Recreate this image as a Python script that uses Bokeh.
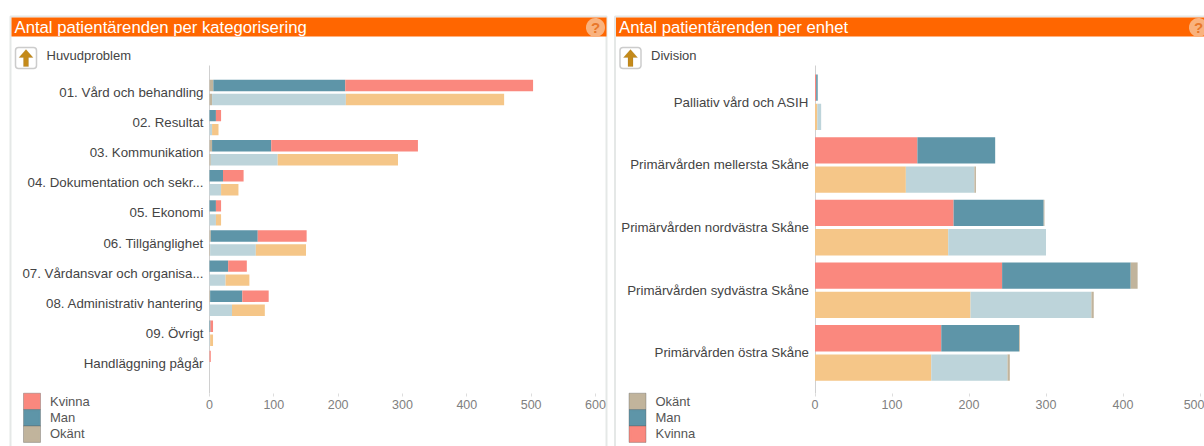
import numpy as np
from bokeh.embed import file_html
from bokeh.layouts import row
from bokeh.models import (BoxAnnotation, ColumnDataSource, FixedTicker, Label, Legend, LegendItem,
                          PolyAnnotation, Range1d)
from bokeh.plotting import figure
from bokeh.resources import INLINE

FONT = "Liberation Sans"
RED, BLUE, TAN = "#FA887E", "#5E95A8", "#C1B49C"
ORANGE, PALE = "#F5C688", "#BDD4DA"
H = 446

# left chart: categorisation
cat_left = ["01. Vård och behandling", "02. Resultat", "03. Kommunikation",
            "04. Dokumentation och sekr...", "05. Ekonomi", "06. Tillgänglighet",
            "07. Vårdansvar och organisa...", "08. Administrativ hantering", "09. Övrigt",
            "Handläggning pågår"]
left_a_okant = [6, 0, 4, 0, 0, 2, 0, 1, 0, 0]
left_a_man = [205, 10, 92, 21, 10, 73, 29, 50, 1.5, 0]
left_a_kvinna = [292, 8, 228, 32, 8, 76, 29, 41, 4, 2]
left_b_okant = [4, 0, 2, 0, 0, 1, 0, 0, 0, 0]
left_b_man = [208, 4, 104, 18, 10, 71, 25, 35, 1, 0]
left_b_kvinna = [246, 10, 187, 27, 8, 78, 37, 51, 4.5, 0]
ticks_left = [0, 100, 200, 300, 400, 500, 600]

# right chart: unit
cat_right = ["Palliativ vård och ASIH", "Primärvården mellersta Skåne", "Primärvården nordvästra Skåne",
             "Primärvården sydvästra Skåne", "Primärvården östra Skåne"]
right_a_kvinna = [1.5, 133, 180, 243, 164]
right_a_man = [2, 101, 117, 167, 101]
right_a_okant = [0, 0, 1, 9, 1]
right_b_kvinna = [3, 118, 173, 202, 151]
right_b_man = [5, 89, 127, 157, 99]
right_b_okant = [0, 2, 0, 3, 3]
ticks_right = [0, 100, 200, 300, 400, 500]


def panel(width, zero_px, px_per_val, row0_px, row_px, cats, ticks):
    """The frame fills the canvas; the axes sit at fixed places inside it."""
    x_range = Range1d(-zero_px / px_per_val, (width - zero_px) / px_per_val)
    y_range = Range1d((H - row0_px) / row_px, -row0_px / row_px)
    p = figure(width=width, height=H, x_range=x_range, y_range=y_range,
               output_backend="svg", toolbar_location=None,
               min_border_left=0, min_border_right=0, min_border_top=0, min_border_bottom=0)
    p.outline_line_color = None
    p.grid.visible = False
    y_top = (65 - row0_px) / row_px
    y_bot = (393 - row0_px) / row_px
    xa, ya = p.xaxis[0], p.yaxis[0]
    xa.fixed_location = y_bot
    ya.fixed_location = 0
    ya.bounds = (y_top, y_bot)
    ya.level = "underlay"
    xa.ticker = FixedTicker(ticks=ticks)
    xa.axis_line_color = None
    xa.major_tick_line_color = "#DDDDDD"
    xa.major_tick_in = 0
    xa.major_tick_out = 3
    xa.minor_tick_line_color = None
    xa.major_label_text_font = FONT
    xa.major_label_text_font_size = "12.5px"
    xa.major_label_text_color = "#808080"
    xa.major_label_standoff = 3
    ya.ticker = FixedTicker(ticks=list(range(len(cats))))
    ya.major_label_overrides = {i: c for i, c in enumerate(cats)}
    ya.axis_line_color = "#D0D0D0"
    ya.major_tick_line_color = None
    ya.minor_tick_line_color = None
    ya.major_label_text_font = FONT
    ya.major_label_text_font_size = "13.3px"
    ya.major_label_text_color = "#444444"
    ya.major_label_standoff = 0
    return p


SCR = dict(left_units="screen", right_units="screen", top_units="screen", bottom_units="screen")


def chrome(p, x0, x1, help_x, title, sub):
    """Frame, orange header, help icon, drill-up icon, subtitle. Canvas px -> screen (from the bottom)."""
    Y = lambda v: H - v
    p.add_layout(BoxAnnotation(left=x0, right=x1, top=Y(16), bottom=Y(470), fill_alpha=0,
                               line_color="#A9B4B0", line_width=2, level="underlay", **SCR))
    p.add_layout(BoxAnnotation(left=x0 + 1, right=x1, top=Y(17), bottom=Y(36), fill_color="#FF6600",
                               fill_alpha=1, line_color=None, level="underlay", **SCR))
    p.add_layout(Label(x=x0 + 4, y=Y(27), x_units="screen", y_units="screen", text=title, text_color="white",
                       text_font=FONT, text_font_size="16.7px", text_baseline="middle"))
    th = np.linspace(0, 2 * np.pi, 40)
    p.add_layout(PolyAnnotation(xs=list(help_x + 9.5 * np.cos(th)), ys=list(Y(27) + 9.5 * np.sin(th)),
                                xs_units="screen", ys_units="screen",
                                fill_color="#F9B27E", fill_alpha=1, line_color=None))
    p.add_layout(Label(x=help_x, y=Y(27), x_units="screen", y_units="screen", text="?", text_color="#E8772A",
                       text_font=FONT, text_font_size="15px", text_font_style="bold",
                       text_align="center", text_baseline="middle"))
    ix = x0 + 5
    p.add_layout(BoxAnnotation(left=ix, right=ix + 21, top=Y(47), bottom=Y(68), fill_color="white",
                               fill_alpha=1, line_color="#555555", line_width=1.5, border_radius=3, **SCR))
    ax = ix + 10.5
    p.add_layout(PolyAnnotation(xs=[ax, ax + 7, ax + 2.5, ax + 2.5, ax - 2.5, ax - 2.5, ax - 7],
                                ys=[Y(v) for v in (49, 57, 57, 66, 66, 57, 57)], xs_units="screen", ys_units="screen",
                                fill_color="#C48A1A", fill_alpha=1, line_color="#7A5510", line_width=0.5))
    p.add_layout(Label(x=x0 + 36, y=Y(55), x_units="screen", y_units="screen", text=sub, text_color="#444444",
                       text_font=FONT, text_font_size="13px", text_baseline="middle"))


def stacks(p, cats, series, colors, h, off):
    n = len(cats)
    out = []
    for sign, vals, cols in ((-1, series[0], colors[0]), (1, series[1], colors[1])):
        names = [f"s{i}" for i in range(len(vals))]
        data = {nm: v for nm, v in zip(names, vals)}
        data["y"] = [i + sign * off for i in range(n)]
        out.append(p.hbar_stack(names, y="y", height=h, color=cols, line_color=None,
                                source=ColumnDataSource(data)))
    return out


def legend(p, labels, rends, colors, x):
    items = [LegendItem(label=l, renderers=[r]) for l, r in zip(labels, rends)]
    p.add_layout(Legend(items=items, location=(x, 5), orientation="vertical", glyph_width=17, glyph_height=16,
                        spacing=0, margin=0, padding=0, label_standoff=10, label_text_font=FONT,
                        label_text_font_size="13px", label_text_color="#555555", label_height=16,
                        background_fill_alpha=0, border_line_color=None))
    # contiguous swatches, as the reference stacks them with no gaps
    for i, c in enumerate(colors):
        p.add_layout(BoxAnnotation(left=x, right=x + 17, top=H - (392.7 + 16.4 * i), bottom=H - (392.7 + 16.4 * (i + 1)),
                                   fill_color=c, fill_alpha=1, line_color="#555555", line_alpha=0.35, line_width=1,
                                   **SCR))


p1 = panel(610, 209, 0.6433, 92, 30.1, cat_left, ticks_left)
chrome(p1, 10, 606, 595, "Antal patientärenden per kategorisering", "Huvudproblem")
a, b = stacks(p1, cat_left,
              ([left_a_okant, left_a_man, left_a_kvinna], [left_b_okant, left_b_man, left_b_kvinna]),
              ([TAN, BLUE, RED], [TAN, PALE, ORANGE]), 0.38, 0.2326)
legend(p1, ["Kvinna", "Man", "Okänt"], [a[2], a[1], a[0]], [RED, BLUE, TAN], 23)

p2 = panel(594, 204.5, 0.77, 101.8, 62.65, cat_right, ticks_right)
chrome(p2, 4.5, 640, 588, "Antal patientärenden per enhet", "Division")
a, b = stacks(p2, cat_right,
              ([right_a_kvinna, right_a_man, right_a_okant], [right_b_kvinna, right_b_man, right_b_okant]),
              ([RED, BLUE, TAN], [ORANGE, PALE, TAN]), 0.42, 0.234)
legend(p2, ["Okänt", "Man", "Kvinna"], [a[2], a[1], a[0]], [TAN, BLUE, RED], 18.5)

layout = row(p1, p2, margin=(0, 0, 0, 0), spacing=0)
open("out.html", "w").write(file_html(layout, INLINE))
